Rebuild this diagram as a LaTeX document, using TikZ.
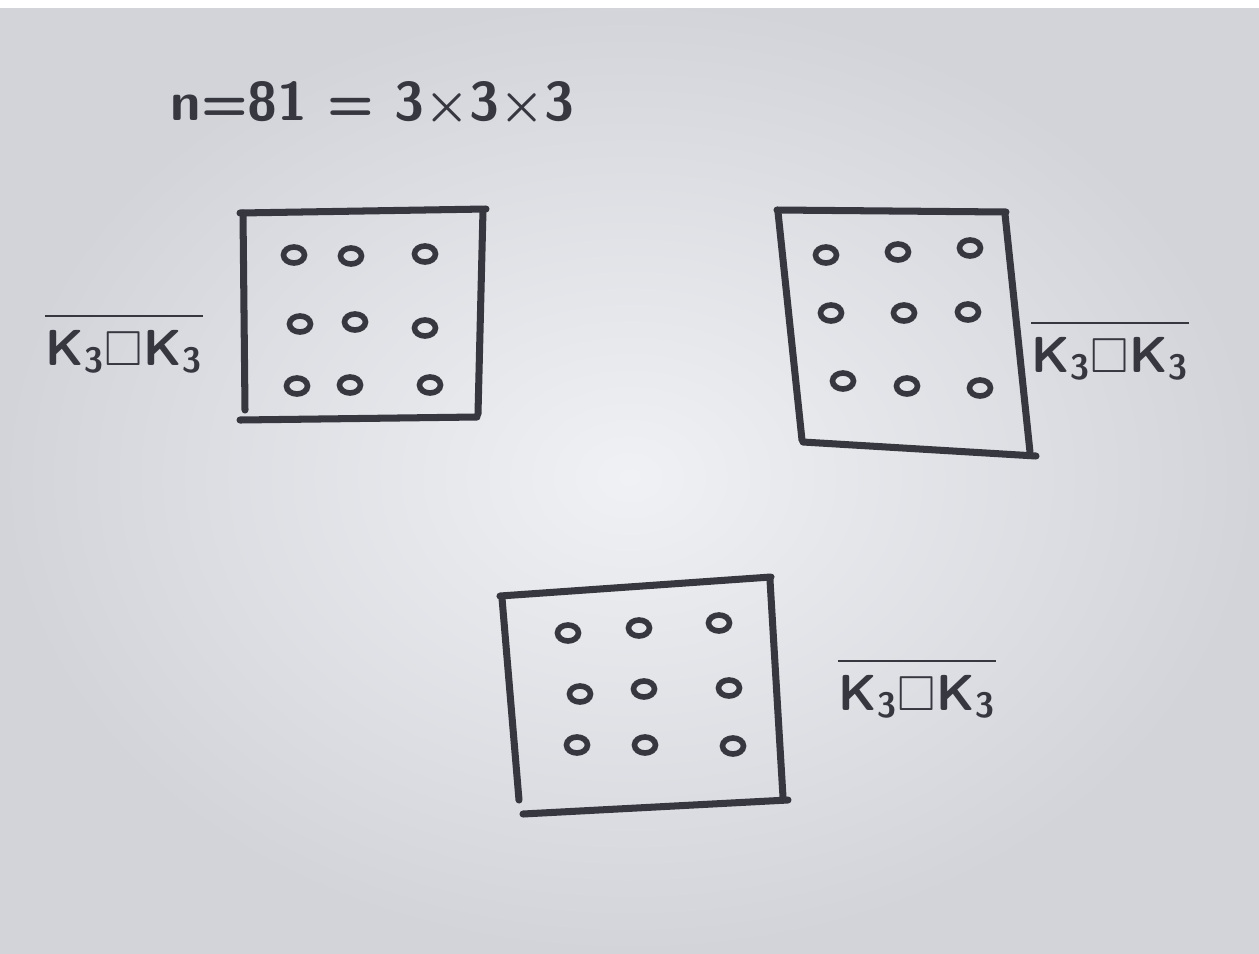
\documentclass[tikz,border=0pt]{standalone}
\usepackage{amsmath,amssymb}
\usetikzlibrary{positioning,shapes.geometric}
\definecolor{ink}{RGB}{55,55,64}
\definecolor{paper}{RGB}{240,241,244}
\definecolor{paperedge}{RGB}{210,212,218}

\begin{document}
\begin{tikzpicture}[
    x=0.1mm, y=-0.1mm,
    pen/.style={line width=2pt, draw=ink, line cap=round, line join=round},
    vertex/.style={ellipse, draw=ink, line width=1.6pt, minimum width=2.1mm, minimum height=1.6mm, inner sep=0pt},
    lbl/.style={text=ink, font=\sffamily\bfseries\boldmath\fontsize{14}{17}\selectfont, inner sep=0pt}
  ]
    % paper
    \useasboundingbox (0,0) rectangle (1259,954);
    \shade[inner color=paper, outer color=paperedge] (0,0) rectangle (1259,954);
    \fill[white] (0,0) rectangle (1259,8);

    % title
    \node[lbl, anchor=west, font=\sffamily\bfseries\boldmath\fontsize{15.5}{18}\selectfont] (title) at (170,104)
      {n=81 = 3$\times$3$\times$3};

    % left box
    \draw[pen] (240,213) -- (486,209);
    \draw[pen] (243,213) -- (245,410);
    \draw[pen] (483,210) -- (478,414);
    \draw[pen] (240,420) -- (477,417);
    \foreach \cx/\cy [count=\i] in {294/255, 351/256, 425/254, 300/324, 355/322, 425/328, 297/386, 350/385, 430/385}
      \node[vertex] (l\i) at (\cx,\cy) {};
    \node[lbl] (labl) at (124,343) {$\overline{\vphantom{I^I}\mathsf{K}_{\mathsf{3}}\square\mathsf{K}_{\mathsf{3}}}$};

    % right box
    \draw[pen] (777,210) -- (1006,212);
    \draw[pen] (778,212) -- (802,440);
    \draw[pen] (1005,214) -- (1030,452);
    \draw[pen] (803,442) -- (1036,456);
    \foreach \cx/\cy [count=\i] in {826/255, 898/252, 970/248, 831/313, 904/313, 968/312, 843/381, 907/386, 980/388}
      \node[vertex] (r\i) at (\cx,\cy) {};
    \node[lbl] (labr) at (1110,350) {$\overline{\vphantom{I^I}\mathsf{K}_{\mathsf{3}}\square\mathsf{K}_{\mathsf{3}}}$};

    % bottom box
    \draw[pen] (500,596) -- (771,577);
    \draw[pen] (502,598) -- (519,800);
    \draw[pen] (770,580) -- (783,797);
    \draw[pen] (523,814) -- (788,800);
    \foreach \cx/\cy [count=\i] in {568/633, 639/628, 719/623, 580/694, 644/689, 729/688, 577/745, 645/745, 733/746}
      \node[vertex] (b\i) at (\cx,\cy) {};
    \node[lbl] (labb) at (917,688) {$\overline{\vphantom{I^I}\mathsf{K}_{\mathsf{3}}\square\mathsf{K}_{\mathsf{3}}}$};
\end{tikzpicture}
\end{document}
